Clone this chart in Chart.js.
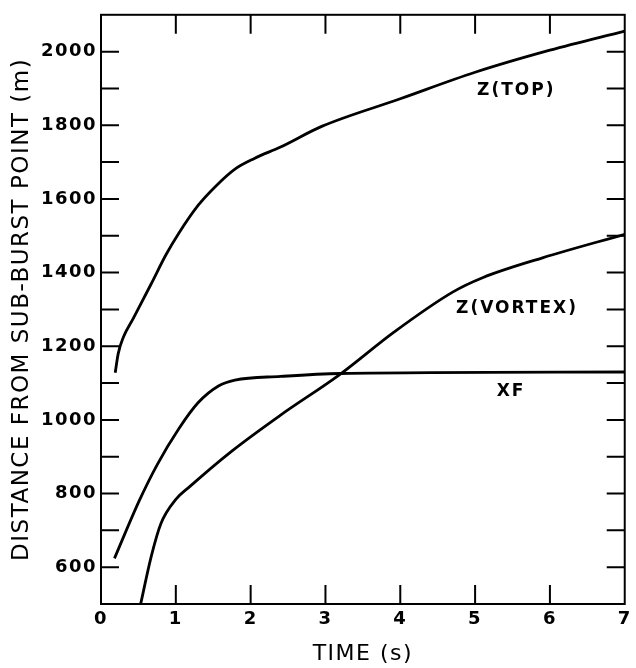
<!DOCTYPE html>
<html>
<head>
<meta charset="utf-8">
<script src="https://cdn.jsdelivr.net/npm/chart.js@4.4.1/dist/chart.umd.min.js"></script>
<style>
  body { margin: 0; background: #fff; }
  #wrap { width: 636px; height: 668px; }
</style>
</head>
<body>
<div id="wrap"><canvas id="grafico" width="636" height="668"></canvas></div>
<script>
// Valores (tiempo en s, distancia en m)
let tTop = [0.19, 0.23, 0.3, 0.43, 0.67, 0.87, 1.04, 1.3, 1.52, 1.79, 2.05, 2.4, 2.95, 4.0, 5.0, 6.0, 7.0];
let zTop = [1128, 1180, 1225, 1275, 1369, 1449, 1507, 1583, 1632, 1681, 1710, 1741, 1797, 1872, 1944, 2004, 2056];

let tVortex = [0.53, 0.67, 0.8, 1.0, 1.17, 1.74, 2.4, 3.19, 3.92, 4.7, 5.1, 5.9, 7.0];
let zVortex = [500, 628, 718, 784, 816, 914, 1013, 1123, 1239, 1347, 1386, 1440, 1504];

let tXF = [0.18, 0.51, 0.75, 1.04, 1.3, 1.57, 1.79, 2.4, 3.2, 7.0];
let xF = [624, 780, 878, 976, 1047, 1092, 1108, 1118, 1126, 1130];

//Marcas de los ejes
let xTicks = [1, 2, 3, 4, 5, 6];
let yTicks = [600, 700, 800, 900, 1000, 1100, 1200, 1300, 1400, 1500, 1600, 1700, 1800, 1900, 2000];
let yLabels = [600, 800, 1000, 1200, 1400, 1600, 1800, 2000];

//Etiquetas de las curvas
let curveNames = ['Z(TOP)', 'Z(VORTEX)', 'XF'];
let curveNameX = [5.55, 5.56, 5.48];
let curveNameY = [1895, 1303, 1078];

function puntos(ts, vs) {
  return ts.map((t, i) => ({ x: t, y: vs[i] }));
}

//Marco, marcas hacia dentro y nombres de curvas
const marco = {
  id: 'marco',
  beforeDraw(chart) {
    chart.ctx.letterSpacing = '1.5px';
  },
  afterDatasetsDraw(chart) {
    const { ctx, chartArea: a, scales: { x, y } } = chart;
    ctx.save();
    ctx.strokeStyle = '#000';
    ctx.lineWidth = 2;
    ctx.strokeRect(a.left, a.top, a.right - a.left, a.bottom - a.top);
    ctx.beginPath();
    xTicks.forEach(t => {
      let px = x.getPixelForValue(t);
      ctx.moveTo(px, a.bottom); ctx.lineTo(px, a.bottom - 19);
      ctx.moveTo(px, a.top); ctx.lineTo(px, a.top + 19);
    });
    yTicks.forEach(v => {
      let py = y.getPixelForValue(v);
      ctx.moveTo(a.left, py); ctx.lineTo(a.left + 18, py);
      ctx.moveTo(a.right, py); ctx.lineTo(a.right - 18, py);
    });
    ctx.stroke();

    ctx.fillStyle = '#000';
    ctx.font = 'bold 17px "DejaVu Sans"';
    ctx.letterSpacing = '2px';
    ctx.textAlign = 'center';
    ctx.textBaseline = 'middle';
    curveNames.forEach((n, i) => {
      ctx.fillText(n, x.getPixelForValue(curveNameX[i]), y.getPixelForValue(curveNameY[i]));
    });
    ctx.restore();
  }
};

let estilo = { borderColor: '#000', borderWidth: 2.8, pointRadius: 0, fill: false, cubicInterpolationMode: 'monotone' };

let graf = new Chart(document.getElementById('grafico').getContext('2d'), {
  type: 'line',
  data: {
    datasets: [
      Object.assign({ label: 'Z(TOP)', data: puntos(tTop, zTop) }, estilo),
      Object.assign({ label: 'Z(VORTEX)', data: puntos(tVortex, zVortex) }, estilo),
      Object.assign({ label: 'XF', data: puntos(tXF, xF) }, estilo)
    ]
  },
  options: {
    responsive: false,
    animation: false,
    layout: { padding: { top: 6, right: 6, left: 0, bottom: 0 } },
    plugins: {
      legend: { display: false },
      tooltip: { enabled: false }
    },
    scales: {
      x: {
        type: 'linear',
        min: 0,
        max: 7,
        afterFit(s) { s.height = 64; },
        grid: { display: false, drawTicks: false },
        border: { display: true, color: '#000', width: 2 },
        ticks: {
          stepSize: 1,
          padding: 5,
          color: '#000',
          font: { family: 'DejaVu Sans', size: 18, weight: 'bold' }
        },
        title: {
          display: true,
          text: 'TIME (s)',
          color: '#000',
          padding: { top: 0, bottom: 1 },
          font: { family: 'DejaVu Sans', size: 22 }
        }
      },
      y: {
        min: 500,
        max: 2100,
        afterFit(s) { s.width = 101; },
        grid: { display: false, drawTicks: false },
        border: { display: true, color: '#000', width: 2 },
        ticks: {
          stepSize: 100,
          autoSkip: false,
          padding: 4,
          color: '#000',
          font: { family: 'DejaVu Sans', size: 18, weight: 'bold' },
          callback: v => yLabels.includes(v) ? String(v) : ''
        },
        title: {
          display: true,
          text: 'DISTANCE FROM SUB-BURST POINT (m)',
          color: '#000',
          padding: { top: 8, bottom: 0 },
          font: { family: 'DejaVu Sans', size: 23 }
        }
      }
    }
  },
  plugins: [marco]
});
</script>
</body>
</html>
